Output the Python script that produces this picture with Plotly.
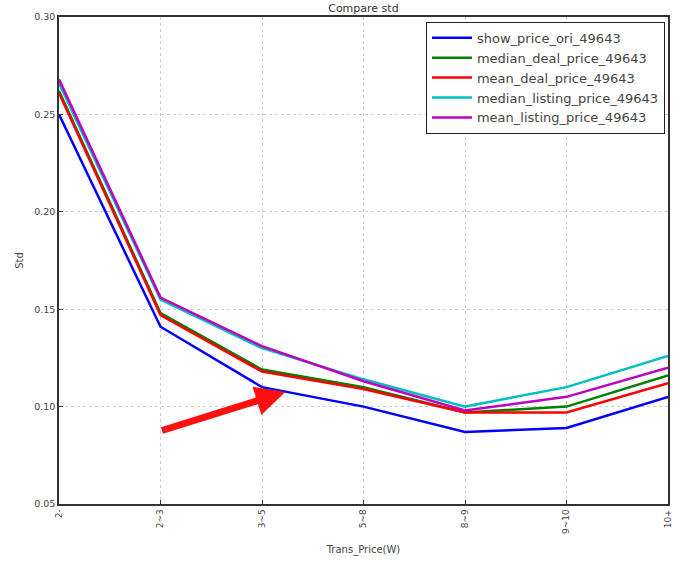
import plotly.graph_objects as go

categories = ["2-", "2~3", "3~5", "5~8", "8~9", "9~10", "10+"]
show_price_ori = [0.250, 0.141, 0.110, 0.100, 0.087, 0.089, 0.105]
median_deal_price = [0.262, 0.148, 0.119, 0.110, 0.097, 0.100, 0.116]
mean_deal_price = [0.261, 0.147, 0.118, 0.109, 0.097, 0.097, 0.112]
median_listing_price = [0.266, 0.155, 0.130, 0.114, 0.100, 0.110, 0.126]
mean_listing_price = [0.268, 0.156, 0.131, 0.113, 0.098, 0.105, 0.120]

series = [
    ("show_price_ori_49643", show_price_ori, "#0000ff"),
    ("median_deal_price_49643", median_deal_price, "#008000"),
    ("mean_deal_price_49643", mean_deal_price, "#ff0000"),
    ("median_listing_price_49643", median_listing_price, "#00bfbf"),
    ("mean_listing_price_49643", mean_listing_price, "#bf00bf"),
]

fig = go.Figure()
for name, vals, col in series:
    fig.add_trace(go.Scatter(x=categories, y=vals, mode="lines", name=name,
                             line=dict(color=col, width=2.5)))

font = "DejaVu Sans"
fig.update_layout(
    width=673, height=562,
    margin=dict(l=59, r=5, t=17, b=58),
    paper_bgcolor="white", plot_bgcolor="white",
    font=dict(family=font, size=10, color="#444"),
    title=dict(text="Compare std", x=0.54, xanchor="center", y=0.993, yanchor="top",
               font=dict(size=11, color="#333")),
    showlegend=True,
    legend=dict(x=0.995, y=0.99, xanchor="right", yanchor="top",
                bordercolor="#222", borderwidth=1, bgcolor="white",
                font=dict(size=13, color="#444"), tracegroupgap=0,
                itemwidth=40),
    annotations=[dict(
        x=2.23, y=0.1075, xref="x", yref="y",
        ax=1.0, ay=0.0875, axref="x", ayref="y",
        showarrow=True, arrowhead=2, arrowsize=0.85, arrowwidth=7,
        arrowcolor="#ff1010", text="")],
)
fig.update_xaxes(
    type="category", range=[0, 6], tickangle=-90, automargin=False,
    showgrid=True, gridcolor="#cccccc", griddash="dot", gridwidth=1,
    showline=True, linecolor="#333", linewidth=1.5, mirror=True,
    ticks="inside", ticklen=4, tickcolor="#333",
    title=dict(text="Trans_Price(W)", font=dict(size=10, color="#444"), standoff=13),
    tickfont=dict(size=9, color="#444"),
)
fig.update_yaxes(
    range=[0.05, 0.30], tickvals=[0.05, 0.10, 0.15, 0.20, 0.25, 0.30],
    ticktext=["0.05", "0.10", "0.15", "0.20", "0.25", "0.30"], automargin=False,
    showgrid=True, gridcolor="#cccccc", griddash="dot", gridwidth=1,
    showline=True, linecolor="#333", linewidth=1.5, mirror=True,
    ticks="inside", ticklen=4, tickcolor="#333", zeroline=False,
    title=dict(text="Std", font=dict(size=10, color="#444"), standoff=9),
    tickfont=dict(size=9.5, color="#444"),
)
fig.write_html("out.html", config={"displayModeBar": False},
               post_script="document.body.style.margin='0';document.body.style.overflow='hidden';")
